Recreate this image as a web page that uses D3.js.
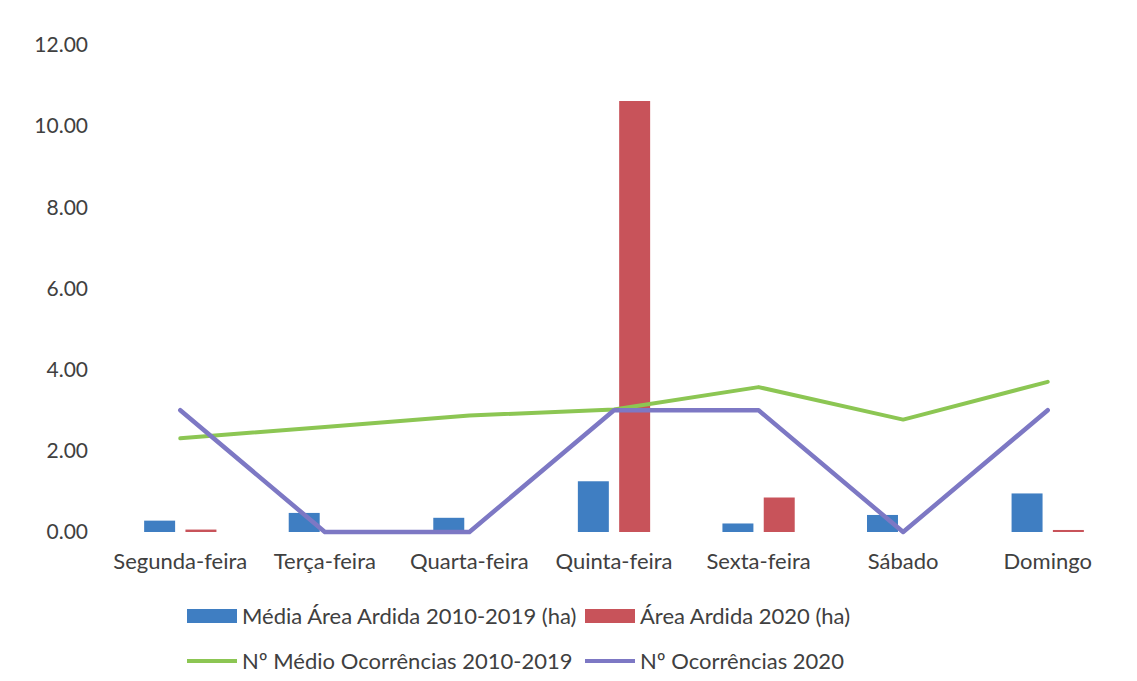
<!DOCTYPE html>
<html>
<head>
<meta charset="utf-8">
<script src="https://cdn.jsdelivr.net/npm/d3@7"></script>
<style>
  body { margin: 0; background: #fff; }
  svg text { font-family: Lato, "Open Sans", sans-serif; fill: #404040; }
</style>
</head>
<body>
<svg id="svg" width="1137" height="681"></svg>
<script>
var days = ["Segunda-feira", "Terça-feira", "Quarta-feira", "Quinta-feira", "Sexta-feira", "Sábado", "Domingo"];
var areaMedia = [0.28, 0.47, 0.35, 1.25, 0.21, 0.42, 0.95];
var area2020 = [0.06, 0, 0, 10.62, 0.85, 0, 0.05];
var ocorrMedia = [2.31, 2.59, 2.87, 3.02, 3.57, 2.77, 3.70];
var ocorr2020 = [3, 0, 0, 3, 3, 0, 3];
var yTicks = [0, 2, 4, 6, 8, 10, 12];

var colors = {
  blue: "#3f7ec2",
  red: "#c8535a",
  green: "#8cc653",
  purple: "#7d78c4"
};

var svg = d3.select("#svg");
var padding = { top: 45, right: 17, bottom: 149, left: 108 };
var width = 1137 - padding.left - padding.right;
var height = 681 - padding.top - padding.bottom;

var x = d3.scaleBand().domain(days).range([0, width]);
var xInner = d3.scaleBand()
  .domain(["media", "ano"])
  .range([x.bandwidth() * 0.25, x.bandwidth() * 0.75])
  .paddingInner(0.25);
var y = d3.scaleLinear().domain([0, 12]).range([height, 0]);

var g = svg.append("g")
  .attr("transform", "translate(" + padding.left + "," + padding.top + ")");

// y axis
var yAxis = g.append("g")
  .attr("transform", "translate(-20,0)")
  .call(d3.axisLeft(y).tickValues(yTicks).tickFormat(d3.format(".2f")).tickSize(0).tickPadding(0));
yAxis.select(".domain").remove();
yAxis.selectAll("text").attr("font-size", 21).style("font-family", "Lato, sans-serif").attr("fill", "#404040");

// x axis
var xAxis = g.append("g")
  .attr("transform", "translate(0," + height + ")")
  .call(d3.axisBottom(x).tickSize(0).tickPadding(21));
xAxis.select(".domain").remove();
xAxis.selectAll("text").attr("font-size", 22).style("font-family", "Lato, sans-serif").attr("fill", "#404040");

// bars
var barData = days.map(function (d, i) {
  return [{ day: d, key: "media", v: areaMedia[i] }, { day: d, key: "ano", v: area2020[i] }];
});
g.selectAll("g.grp")
  .data(barData)
  .enter()
  .append("g")
  .attr("class", "grp")
  .attr("transform", function (d) { return "translate(" + x(d[0].day) + ",0)"; })
  .selectAll("rect")
  .data(function (d) { return d; })
  .enter()
  .append("rect")
  .attr("x", function (d) { return xInner(d.key); })
  .attr("y", function (d) { return y(d.v); })
  .attr("width", xInner.bandwidth())
  .attr("height", function (d) { return height - y(d.v); })
  .attr("fill", function (d) { return d.key === "media" ? colors.blue : colors.red; });

// lines
var line = d3.line()
  .x(function (d, i) { return x(days[i]) + x.bandwidth() / 2; })
  .y(function (d) { return y(d); });

g.append("path")
  .datum(ocorrMedia)
  .attr("d", line)
  .attr("fill", "none")
  .attr("stroke", colors.green)
  .attr("stroke-width", 4)
  .attr("stroke-linecap", "round")
  .attr("stroke-linejoin", "round");

g.append("path")
  .datum(ocorr2020)
  .attr("d", line)
  .attr("fill", "none")
  .attr("stroke", colors.purple)
  .attr("stroke-width", 4.5)
  .attr("stroke-linecap", "round")
  .attr("stroke-linejoin", "round");

// legend
var legendItems = [
  { label: "Média Área Ardida 2010-2019 (ha)", color: colors.blue, type: "rect", x: 187, y: 616 },
  { label: "Área Ardida 2020 (ha)", color: colors.red, type: "rect", x: 585, y: 616 },
  { label: "Nº Médio Ocorrências 2010-2019", color: colors.green, type: "line", x: 187, y: 661 },
  { label: "Nº Ocorrências 2020", color: colors.purple, type: "line", x: 585, y: 661 }
];
var leg = svg.selectAll("g.leg")
  .data(legendItems)
  .enter()
  .append("g")
  .attr("class", "leg")
  .attr("transform", function (d) { return "translate(" + d.x + "," + d.y + ")"; });

leg.filter(function (d) { return d.type === "rect"; })
  .append("rect")
  .attr("x", 0).attr("y", -7).attr("width", 50).attr("height", 14)
  .attr("fill", function (d) { return d.color; });
leg.filter(function (d) { return d.type === "line"; })
  .append("line")
  .attr("x1", 0).attr("x2", 50).attr("y1", 0).attr("y2", 0)
  .attr("stroke", function (d) { return d.color; })
  .attr("stroke-width", 4);
leg.append("text")
  .attr("x", 55)
  .attr("dy", "0.35em")
  .attr("font-size", 22)
  .text(function (d) { return d.label; });
</script>
</body>
</html>
